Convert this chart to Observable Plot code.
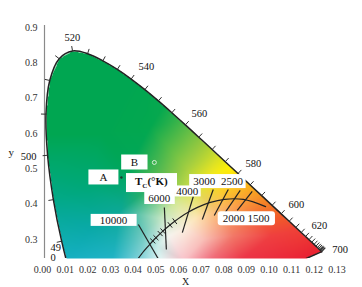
<!DOCTYPE html>
<html><head><meta charset="utf-8">
<script src="https://cdn.jsdelivr.net/npm/d3@7"></script>
<script src="https://cdn.jsdelivr.net/npm/@observablehq/plot@0.6"></script>
<style>body{margin:0;background:#fff} svg{display:block}</style>
</head><body><div id="chart"></div>
<script>
// ---- data ----
const wavelengths = [380,385,390,395,400,405,410,415,420,425,430,435,440,445,450,455,460,465,470,475,480,485,490,495,500,505,510,515,520,525,530,535,540,545,550,555,560,565,570,575,580,585,590,595,600,605,610,615,620,625,630,635,640,645,650,655,660,665,670,680,690,700];
const locusX = [0.1741,0.1740,0.1738,0.1736,0.1733,0.1730,0.1726,0.1721,0.1714,0.1703,0.1689,0.1669,0.1644,0.1611,0.1566,0.1510,0.1440,0.1355,0.1241,0.1096,0.0913,0.0687,0.0454,0.0235,0.0082,0.0039,0.0139,0.0389,0.0743,0.1142,0.1547,0.1929,0.2296,0.2658,0.3016,0.3373,0.3731,0.4087,0.4441,0.4788,0.5125,0.5448,0.5752,0.6029,0.6270,0.6482,0.6658,0.6801,0.6915,0.7006,0.7079,0.7140,0.7190,0.7230,0.7260,0.7283,0.7300,0.7311,0.7320,0.7334,0.7344,0.7347];
const locusY = [0.0050,0.0050,0.0049,0.0049,0.0048,0.0048,0.0048,0.0048,0.0051,0.0058,0.0069,0.0086,0.0109,0.0138,0.0177,0.0227,0.0297,0.0399,0.0578,0.0868,0.1327,0.2007,0.2950,0.4127,0.5384,0.6548,0.7502,0.8120,0.8338,0.8262,0.8059,0.7816,0.7543,0.7243,0.6923,0.6589,0.6245,0.5896,0.5547,0.5202,0.4866,0.4544,0.4242,0.3965,0.3725,0.3514,0.3340,0.3197,0.3083,0.2993,0.2920,0.2859,0.2809,0.2770,0.2740,0.2717,0.2700,0.2689,0.2680,0.2666,0.2656,0.2653];

const planckT = [Infinity,20000,15000,12000,10000,9000,8000,7000,6500,6000,5500,5000,4500,4000,3500,3000,2500,2000,1500];
const planckX = [0.2399,0.2564,0.2637,0.2718,0.2807,0.2869,0.2952,0.3064,0.3135,0.3221,0.3325,0.3451,0.3608,0.3805,0.4053,0.4369,0.4770,0.5267,0.5857];
const planckY = [0.2342,0.2576,0.2673,0.2776,0.2884,0.2956,0.3048,0.3166,0.3237,0.3318,0.3411,0.3516,0.3636,0.3768,0.3907,0.4041,0.4137,0.4133,0.3931];
const planckTickT = [9000,8000,7000,6500,5500,5000];

// isotemperature lines
const isoT  = [10000,6000,4000,3000,2500,2000,1500];
const isoX1 = [0.2487,0.3175,0.3942,0.4471,0.4868,0.5185,0.5503];
const isoY1 = [0.3425,0.3907,0.4215,0.4416,0.4416,0.4388,0.4360];
const isoX2 = [0.3069,0.3228,0.3651,0.4180,0.4497,0.4788,0.5106];
const isoY2 = [0.2349,0.2717,0.3195,0.3567,0.3680,0.3765,0.3822];

// points A and B
const pointNames = ["A","B"];
const pointX = [0.2037,0.2910];
const pointY = [0.4756,0.5181];

// boxed labels
const boxText = ["A","B","6000","4000","3000","2500","10000","2000 1500"];
const boxX = [0.156,0.238,0.304,0.378,0.423,0.497,0.1825,0.534];
const boxY = [0.4756,0.518,0.416,0.436,0.464,0.464,0.354,0.359];
const tcText = "TC(°K)", tcX = 0.283, tcY = 0.464;

// wavelength labels
const wlText = ["520","540","560","580","600","620","700","500"];
const wlX = [0.074,0.270,0.410,0.553,0.667,0.728,0.783,-0.042];
const wlY = [0.872,0.790,0.657,0.515,0.399,0.340,0.272,0.535];
const wl490Text = "49\n0", wl490X = 0.016, wl490Y = 0.263;

// axis tick labels
const xTickLabels = [0.00,0.01,0.02,0.03,0.04,0.05,0.06,0.07,0.08,0.09,0.10,0.11,0.12,0.13];
const xTickFactor = 6; // tick label -> chromaticity x
const yTicks = [0.3,0.4,0.5,0.6,0.7,0.8,0.9];

// gradient stops for the colour fill [x, y, colour]
const stopX = [0.00,0.10,0.25,0.00,0.15,0.28,0.33,0.38,0.42,0.46,0.50,0.54,0.58,0.63,0.68,0.75,0.78,0.65,0.52,0.44,0.37,0.31,0.26,0.18,0.06,0.00,0.00,0.00,0.12,0.12,0.20,0.22,0.27,0.26,0.31,0.33,0.30,0.35,0.32,0.38,0.40,0.44,0.47,0.40,0.46,0.52,0.56,0.60,0.50,0.42,0.37];
const stopY = [0.92,0.92,0.80,0.60,0.60,0.62,0.70,0.64,0.59,0.55,0.51,0.47,0.43,0.38,0.33,0.27,0.24,0.24,0.24,0.24,0.24,0.24,0.24,0.24,0.24,0.24,0.40,0.50,0.33,0.45,0.38,0.50,0.44,0.32,0.36,0.31,0.28,0.41,0.47,0.50,0.44,0.48,0.44,0.36,0.38,0.40,0.36,0.31,0.31,0.30,0.33];
const stopC = ["#00a651","#00a651","#00a651","#00a651","#00a651","#03a84f","#0aa94e","#4cb848","#8dc63f","#cadb2a","#fff200","#fcc010","#f7941d","#f26522","#ef4136","#e8202e","#e8202e","#ea2638","#ec3448","#f06a7c","#f8c0c8","#e6f4f4","#8ed6de","#22b4c8","#16b0c4","#0caab4","#03a98e","#00a870","#0aa9a8","#00a878","#0ca896","#00a65a","#2cb060","#6cc8bc","#c4e6c4","#f6f4ee","#c8ece8","#d4e890","#70c050","#a8d040","#dce448","#f2e820","#fcd028","#fce6b8","#fbb870","#f89a40","#f36a3c","#ef4040","#f27868","#f9c0b8","#fbeede"];

// ---- derived tables ----
const SX = 377.5, SY = 353; // px per unit (for tick orientation only)
const locus = wavelengths.map((w,i)=>({w, x: locusX[i], y: locusY[i]}));
const purple = [{x1: locus[locus.length-1].x, y1: locus[locus.length-1].y, x2: locus[0].x, y2: locus[0].y}];
const poly = locus.map(d=>[d.x,d.y]);

function normalAt(arr, i){
  const a = arr[Math.max(0,i-1)], b = arr[Math.min(arr.length-1,i+1)];
  const tx = (b.x-a.x)*SX, ty = (b.y-a.y)*SY;
  const n = Math.hypot(tx,ty);
  return [-ty/n, tx/n];
}
const locTicks = [];
locus.forEach((d,i)=>{
  if (d.w < 490) return;
  const [nx,ny] = normalAt(locus,i);
  const L = 5;
  locTicks.push({x1:d.x, y1:d.y, x2:d.x+L*nx/SX, y2:d.y+L*ny/SY});
});
const planck = planckT.map((t,i)=>({t, x: planckX[i], y: planckY[i]}));
const plTicks = [];
planck.forEach((d,i)=>{
  if (!planckTickT.includes(d.t)) return;
  const [nx,ny] = normalAt(planck,i);
  const L = 3.5;
  plTicks.push({x1:d.x-L*nx/SX, y1:d.y-L*ny/SY, x2:d.x+L*nx/SX, y2:d.y+L*ny/SY});
});
const iso = isoT.map((t,i)=>({t, x1: isoX1[i], y1: isoY1[i], x2: isoX2[i], y2: isoY2[i]}));
const points = pointNames.map((n,i)=>({n, x: pointX[i], y: pointY[i]}));
const boxes = boxText.map((t,i)=>({t, x: boxX[i], y: boxY[i]}));
const wls = wlText.map((t,i)=>({t, x: wlX[i], y: wlY[i]}));

// colour interpolation over a triangulation of the stops
const stops = stopX.map((x,i)=>[x, stopY[i], d3.rgb(stopC[i])]);
const del = d3.Delaunay.from(stops, d=>d[0], d=>d[1]);
const tri = del.triangles;
function colourAt(x,y){
  if (!d3.polygonContains(poly,[x,y])) return null;
  for (let t=0;t<tri.length;t+=3){
    const a=stops[tri[t]], b=stops[tri[t+1]], c=stops[tri[t+2]];
    const det=(b[1]-c[1])*(a[0]-c[0])+(c[0]-b[0])*(a[1]-c[1]);
    const l1=((b[1]-c[1])*(x-c[0])+(c[0]-b[0])*(y-c[1]))/det;
    const l2=((c[1]-a[1])*(x-c[0])+(a[0]-c[0])*(y-c[1]))/det;
    const l3=1-l1-l2;
    if (l1>=-1e-9 && l2>=-1e-9 && l3>=-1e-9){
      const r=l1*a[2].r+l2*b[2].r+l3*c[2].r, g=l1*a[2].g+l2*b[2].g+l3*c[2].g, bb=l1*a[2].b+l2*b[2].b+l3*c[2].b;
      return `rgb(${Math.round(r)},${Math.round(g)},${Math.round(bb)})`;
    }
  }
  return stopC[del.find(x,y)];
}

const serif = "'Liberation Serif','Times New Roman',serif";
const chart = Plot.plot({
  width: 362, height: 287,
  marginLeft: 44, marginRight: 16, marginTop: 25, marginBottom: 29,
  style: {fontFamily: serif, fontSize: "10px", color: "#333", background: "#fff"},
  x: {domain: [0, 0.8]},
  y: {domain: [0.246, 0.906]},
  color: {type: "identity"},
  marks: [
    Plot.raster({fill: colourAt, x1: 0, x2: 0.8, y1: 0.246, y2: 0.906, pixelSize: 1}),
    Plot.ruleX([0], {stroke: "#8a8a8a", strokeWidth: 1.2}),
    Plot.axisX({ticks: xTickLabels.map(v=>v*xTickFactor), tickFormat: d=>(d/xTickFactor).toFixed(2), tickSize: 0, tickPadding: 7, label: null, fill: "#333", dx: -2}),
    Plot.axisY({ticks: yTicks, tickFormat: d3.format(".1f"), tickSize: 0, tickPadding: 7, label: null, fill: "#333"}),
    Plot.line(locus, {x: "x", y: "y", curve: "catmull-rom", stroke: "#222", strokeWidth: 1.5, clip: true}),
    Plot.link(purple, {x1: "x1", y1: "y1", x2: "x2", y2: "y2", stroke: "#222", strokeWidth: 1.5, clip: true}),
    Plot.link(locTicks, {x1: "x1", y1: "y1", x2: "x2", y2: "y2", stroke: "#333", strokeWidth: 1}),
    Plot.line(planck, {x: "x", y: "y", curve: "catmull-rom", stroke: "#222", strokeWidth: 1.2, clip: true}),
    Plot.link(plTicks, {x1: "x1", y1: "y1", x2: "x2", y2: "y2", stroke: "#222", strokeWidth: 1}),
    Plot.link(iso, {x1: "x1", y1: "y1", x2: "x2", y2: "y2", stroke: "#222", strokeWidth: 1.2, clip: true}),
    Plot.dot(points.filter(d=>d.n==="A"), {x: "x", y: "y", r: 1.2, fill: "#1a3a2a"}),
    Plot.dot(points.filter(d=>d.n==="B"), {x: "x", y: "y", r: 2, stroke: "#d8eed8", strokeWidth: 1}),
    Plot.text(wls, {x: "x", y: "y", text: "t", fill: "#111", fontSize: 10.5}),
    Plot.text([wl490Text], {x: wl490X, y: wl490Y, text: d=>d, textAnchor: "start", fill: "#111", fontSize: 10.5}),
    Plot.text(boxes, {x: "x", y: "y", text: "t", fill: "#111", fontSize: 11, className: "boxlbl"}),
    Plot.text([tcText], {x: tcX, y: tcY, text: d=>d, fill: "#111", fontSize: 11, fontWeight: "bold", className: "boxlbl"}),
    Plot.text(["y"], {frameAnchor: "left", dx: -36, dy: 10, text: d=>d, fill: "#222", fontSize: 11}),
    Plot.text(["X"], {frameAnchor: "bottom", lineAnchor: "middle", dx: -10, dy: 23, text: d=>d, fill: "#222", fontSize: 10})
  ]
});
document.getElementById("chart").append(chart);

// white boxes behind the boxed labels
const pads = {"A":[11,1.5],"B":[9.5,1.5],"6000":[4,0],"4000":[2,-0.5],"3000":[4,1],"2500":[2,1],"10000":[9,0],"2000 1500":[5,1],"TC(°K)":[9,2]};
const NS = "http://www.w3.org/2000/svg";
chart.querySelectorAll("g.boxlbl text").forEach(t=>{
  const key = t.textContent;
  if (key === tcText){
    t.textContent = "";
    const a = document.createElementNS(NS,"tspan"); a.textContent = "T";
    const b = document.createElementNS(NS,"tspan"); b.textContent = "C"; b.setAttribute("font-size","7"); b.setAttribute("dy","3");
    const c = document.createElementNS(NS,"tspan"); c.textContent = "(°K)"; c.setAttribute("dy","-3");
    t.append(a,b,c);
  }
  const bb = t.getBBox();
  const [px,py] = pads[key] || [3,1];
  const r = document.createElementNS(NS,"rect");
  r.setAttribute("x", bb.x-px); r.setAttribute("y", bb.y-py);
  r.setAttribute("width", bb.width+2*px); r.setAttribute("height", bb.height+2*py);
  r.setAttribute("fill","#fff");
  if (key === "2000 1500") r.setAttribute("rx", 3);
  const tr = t.getAttribute("transform"); if (tr) r.setAttribute("transform", tr);
  t.parentNode.insertBefore(r, t);
});
</script>
</body></html>
